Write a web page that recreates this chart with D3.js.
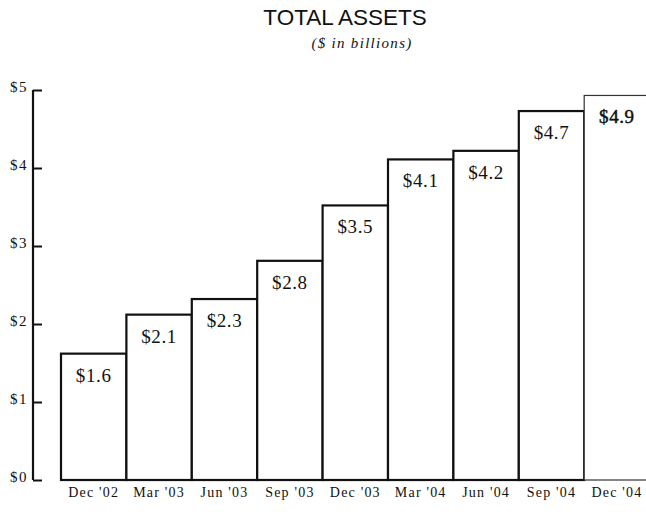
<!DOCTYPE html>
<html>
<head>
<meta charset="utf-8">
<script src="https://cdn.jsdelivr.net/npm/d3@7/dist/d3.min.js"></script>
<style>
  html, body { margin: 0; padding: 0; background: #fff; }
  svg { display: block; }
</style>
</head>
<body>
<script>
const categories = ["Dec '02", "Mar '03", "Jun '03", "Sep '03", "Dec '03", "Mar '04", "Jun '04", "Sep '04", "Dec '04"];
const values = [1.62, 2.12, 2.32, 2.81, 3.52, 4.11, 4.22, 4.73, 4.93];
const valueLabels = ["$1.6", "$2.1", "$2.3", "$2.8", "$3.5", "$4.1", "$4.2", "$4.7", "$4.9"];
const yTicks = [0, 1, 2, 3, 4, 5];
const yTickLabels = ["$0", "$1", "$2", "$3", "$4", "$5"];
const title = "TOTAL ASSETS";
const subtitle = "($ in billions)";

const W = 646, H = 514;
const svg = d3.select("body").append("svg").attr("width", W).attr("height", H);

const x = d3.scaleBand().domain(categories).range([61, 61 + 9 * 65.4]).padding(0);
const y = d3.scaleLinear().domain([0, 5]).range([480, 90]);

// Title
svg.append("text").attr("x", 345).attr("y", 25).attr("text-anchor", "middle")
  .attr("font-family", "Liberation Sans, Arial, sans-serif").attr("font-size", 22.5)
  .attr("fill", "#111").text(title);
svg.append("text").attr("x", 362).attr("y", 48).attr("text-anchor", "middle")
  .attr("font-family", "Liberation Serif, Times New Roman, serif").attr("font-style", "italic")
  .attr("font-size", 15).attr("letter-spacing", 1.3).attr("fill", "#111").text(subtitle);

// Y axis
const yAxis = d3.axisLeft(y).tickValues(yTicks).tickSize(0).tickFormat((d, i) => yTickLabels[i]);
const gy = svg.append("g").attr("transform", "translate(33,0)").call(yAxis);
gy.attr("font-size", null).attr("font-family", null);
gy.select(".domain").attr("stroke", "#111").attr("stroke-width", 2.2).attr("d", `M0,${y(5)}V${y(0)}`);
gy.selectAll(".tick text").attr("x", -5).attr("dy", "0.1em")
  .style("font-family", "'Liberation Serif', 'Times New Roman', serif").style("font-size", "15px")
  .style("letter-spacing", "1.5px").attr("fill", "#111");
gy.selectAll(".tick").append("line").attr("x1", 0).attr("x2", 9).attr("stroke", "#111").attr("stroke-width", 2);

// Bars
const bars = svg.append("g");
bars.selectAll("rect").data(values).join("rect")
  .attr("x", (d, i) => x(categories[i]))
  .attr("y", d => y(d))
  .attr("width", x.bandwidth())
  .attr("height", d => y(0) - y(d))
  .attr("fill", "#fff")
  .attr("stroke", (d, i) => i === values.length - 1 ? "#333" : "#111")
  .attr("stroke-width", (d, i) => i === values.length - 1 ? 1.2 : 2.2);

// Value labels
svg.append("g").selectAll("text").data(values).join("text")
  .attr("x", (d, i) => x(categories[i]) + x.bandwidth() / 2)
  .attr("y", d => y(d) + 28)
  .attr("text-anchor", "middle")
  .attr("font-family", "Liberation Serif, Times New Roman, serif")
  .attr("font-size", 19)
  .attr("letter-spacing", 0.6)
  .attr("fill", "#111")
  .attr("stroke", (d, i) => i === values.length - 1 ? "#111" : "none")
  .attr("stroke-width", 0.45)
  .text((d, i) => valueLabels[i]);

// X axis labels
const xAxis = d3.axisBottom(x).tickSize(0).tickPadding(0);
const gx = svg.append("g").attr("transform", `translate(0,${y(0)})`).call(xAxis);
gx.attr("font-size", null).attr("font-family", null);
gx.select(".domain").remove();
gx.selectAll(".tick text").attr("y", 17).attr("dy", 0)
  .style("font-family", "'Liberation Serif', 'Times New Roman', serif").style("font-size", "14px")
  .style("letter-spacing", "1.2px").attr("fill", "#111");
</script>
</body>
</html>
